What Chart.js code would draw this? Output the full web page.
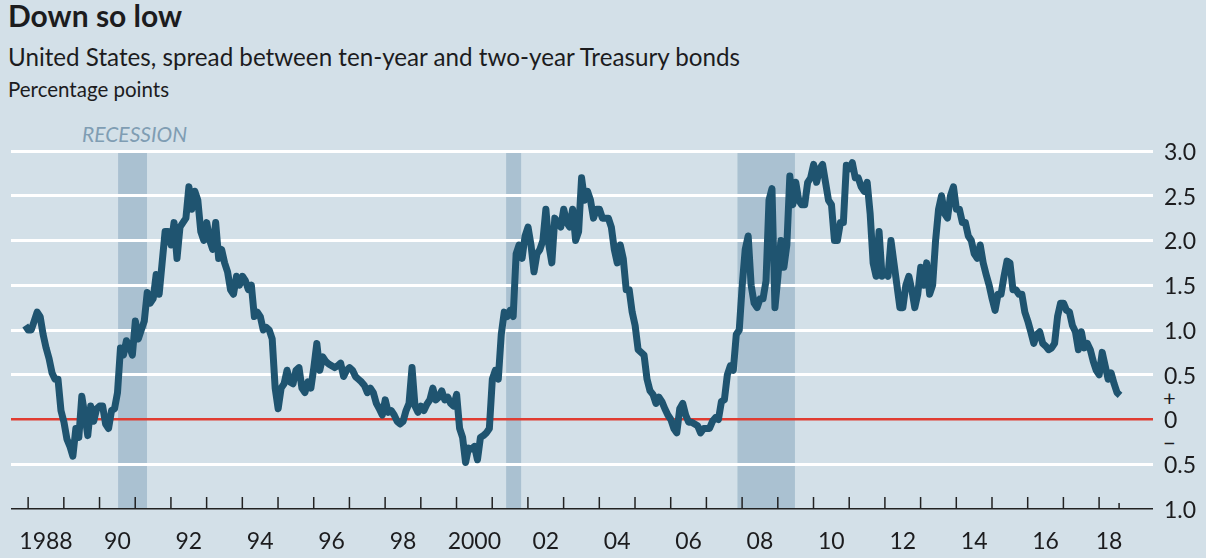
<!DOCTYPE html>
<html>
<head>
<meta charset="utf-8">
<title>Down so low</title>
<script src="https://cdn.jsdelivr.net/npm/chart.js@4"></script>
<style>
  html, body { margin: 0; padding: 0; background: #d3e0e8; }
  body { width: 1206px; height: 558px; position: relative; overflow: hidden; font-family: Lato, sans-serif; color: #1c1c1e; }
  canvas { position: absolute; left: 0; top: 0; }
  .txt { position: absolute; white-space: nowrap; line-height: 1; }
  #title { left: 8px; top: 0px; font-size: 30px; font-weight: 700; }
  #subtitle { left: 8px; top: 45px; font-size: 24.2px; }
  #units { left: 8px; top: 79px; font-size: 20.5px; }
  #recession { left: 82px; top: 123px; font-size: 21px; font-style: italic; color: #7f9db3; }
  #plus { left: 1163px; top: 387px; font-size: 22px; }
  #minus { left: 1163px; top: 432px; font-size: 22px; }
</style>
</head>
<body>
<div class="txt" id="title">Down so low</div>
<div class="txt" id="subtitle">United States, spread between ten-year and two-year Treasury bonds</div>
<div class="txt" id="units">Percentage points</div>
<div class="txt" id="recession">RECESSION</div>
<div class="txt" id="plus">+</div>
<div class="txt" id="minus">−</div>
<canvas id="chart" width="1206" height="558"></canvas>
<script>
// month by month from Dec 1987
const firstMonth = 1987.92;
const spread = [
  1.05, 1.0, 1.0, 1.1, 1.2, 1.15, 0.95, 0.8, 0.68, 0.52, 0.45, 0.45,
  0.1, -0.03, -0.22, -0.3, -0.41, -0.1, -0.2, 0.26, 0.05, -0.18, 0.15, -0.02,
  0.12, 0.15, 0.15, -0.05, -0.1, 0.1, 0.12, 0.3, 0.8, 0.72, 0.88, 0.82,
  0.72, 1.1, 0.9, 1.0, 1.1, 1.42, 1.3, 1.35, 1.62, 1.4, 1.75, 2.1,
  2.1, 1.95, 2.2, 1.8, 2.15, 2.2, 2.25, 2.6, 2.35, 2.55, 2.45, 2.1,
  2.0, 2.2, 2.0, 1.9, 2.2, 1.8, 1.9, 1.75, 1.65, 1.45, 1.4, 1.6,
  1.5, 1.6, 1.55, 1.45, 1.5, 1.15, 1.2, 1.15, 1.0, 1.03, 1.0, 0.9,
  0.35, 0.12, 0.35, 0.4, 0.55, 0.42, 0.4, 0.55, 0.58, 0.35, 0.3, 0.42,
  0.35, 0.58, 0.85, 0.55, 0.7, 0.65, 0.62, 0.6, 0.58, 0.6, 0.63, 0.48,
  0.55, 0.58, 0.55, 0.48, 0.45, 0.42, 0.38, 0.3, 0.35, 0.3, 0.18, 0.12,
  0.05, 0.22, 0.08, 0.1, 0.05, -0.02, -0.05, -0.02, 0.1, 0.18, 0.58, 0.15,
  0.08, 0.15, 0.1, 0.17, 0.22, 0.35, 0.22, 0.25, 0.32, 0.22, 0.25, 0.18,
  0.15, 0.28, -0.1, -0.2, -0.48, -0.32, -0.33, -0.3, -0.45, -0.2, -0.18, -0.15,
  -0.1, 0.45, 0.55, 0.45, 0.95, 1.2, 1.15, 1.22, 1.15, 1.85, 1.95, 1.8,
  2.05, 2.15, 1.95, 1.65, 1.85, 1.9, 2.0, 2.35, 1.95, 1.75, 2.25, 2.2,
  2.15, 2.35, 2.2, 2.15, 2.35, 2.0, 2.1, 2.7, 2.45, 2.55, 2.45, 2.25,
  2.35, 2.35, 2.25, 2.25, 2.25, 2.15, 1.9, 1.75, 1.95, 1.8, 1.45, 1.45,
  1.2, 1.05, 0.78, 0.75, 0.72, 0.45, 0.32, 0.28, 0.18, 0.25, 0.2, 0.12,
  0.05, 0, -0.1, -0.15, 0.12, 0.18, 0.05, -0.03, -0.03, -0.05, -0.07, -0.15,
  -0.1, -0.1, -0.1, -0.02, 0.02, 0, 0.2, 0.22, 0.5, 0.6, 0.55, 0.95,
  1.0, 1.5, 1.9, 2.05, 1.5, 1.3, 1.25, 1.35, 1.35, 1.55, 2.45, 2.58,
  1.25, 1.6, 2.0, 1.7, 1.95, 2.72, 2.4, 2.65, 2.45, 2.4, 2.4, 2.65,
  2.7, 2.85, 2.65, 2.8, 2.85, 2.65, 2.45, 2.4, 2.0, 2.0, 2.2, 2.2,
  2.84, 2.8, 2.87, 2.7, 2.7, 2.6, 2.55, 2.65, 2.3, 1.75, 1.6, 2.1,
  1.6, 1.65, 1.6, 2.0, 1.75, 1.5, 1.25, 1.25, 1.5, 1.6, 1.45, 1.25,
  1.4, 1.7, 1.5, 1.75, 1.4, 1.5, 2.0, 2.35, 2.5, 2.3, 2.25, 2.5,
  2.6, 2.35, 2.35, 2.2, 2.2, 2.05, 2.0, 1.85, 1.8, 1.95, 1.75, 1.62,
  1.5, 1.35, 1.22, 1.4, 1.4, 1.6, 1.77, 1.75, 1.45, 1.45, 1.4, 1.4,
  1.2, 1.1, 0.98, 0.85, 0.95, 0.98, 0.85, 0.82, 0.78, 0.8, 0.85, 1.15,
  1.3, 1.3, 1.22, 1.2, 1.05, 0.98, 0.78, 0.98, 0.8, 0.85, 0.78, 0.65,
  0.55, 0.5, 0.75, 0.6, 0.45, 0.52, 0.4, 0.3, 0.27
];

const yearTicks = [1988, 1989, 1990, 1991, 1992, 1993, 1994, 1995, 1996, 1997, 1998, 1999, 2000, 2001, 2002, 2003, 2004, 2005, 2006, 2007, 2008, 2009, 2010, 2011, 2012, 2013, 2014, 2015, 2016, 2017, 2018];
const lastTick = 2018.56;
const labelYears = [1988.5, 1990.5, 1992.5, 1994.5, 1996.5, 1998.5, 2000.5, 2002.5, 2004.5, 2006.5, 2008.5, 2010.5, 2012.5, 2014.5, 2016.5, 2018.28];
const labelTexts = ["1988", "90", "92", "94", "96", "98", "2000", "02", "04", "06", "08", "10", "12", "14", "16", "18"];
const recessionStart = [1990.52, 2001.39, 2007.87];
const recessionEnd = [1991.33, 2001.81, 2009.48];

const axisFont = { family: "Lato", size: 23 };

const points = spread.map((v, i) => ({ x: firstMonth + i / 12, y: v }));

// recession bands go under the grid, year ticks sit above the axis line
const marks = {
  id: "marks",
  beforeDraw(chart) {
    const { ctx, chartArea, scales } = chart;
    ctx.save();
    ctx.fillStyle = "#aac1d1";
    recessionStart.forEach((s, i) => {
      const x1 = scales.x.getPixelForValue(s);
      const x2 = scales.x.getPixelForValue(recessionEnd[i]);
      ctx.fillRect(x1, chartArea.top + 2, x2 - x1, chartArea.bottom - chartArea.top - 2);
    });
    ctx.restore();
  },
  afterDatasetsDraw(chart) {
    const { ctx, chartArea, scales } = chart;
    ctx.save();
    ctx.strokeStyle = "#222";
    ctx.lineWidth = 1.5;
    ctx.beginPath();
    yearTicks.forEach((y) => {
      const x = scales.x.getPixelForValue(y);
      ctx.moveTo(x, chartArea.bottom);
      ctx.lineTo(x, chartArea.bottom - 12);
    });
    const xl = scales.x.getPixelForValue(lastTick);
    ctx.moveTo(xl, chartArea.bottom);
    ctx.lineTo(xl, chartArea.bottom - 6);
    ctx.stroke();
    ctx.restore();
  }
};

new Chart(document.getElementById("chart").getContext("2d"), {
  type: "line",
  data: {
    datasets: [{
      data: points,
      borderColor: "#1f5470",
      borderWidth: 7,
      borderJoinStyle: "round",
      pointRadius: 0,
      tension: 0
    }]
  },
  options: {
    responsive: false,
    animation: false,
    events: [],
    layout: { padding: { left: 11, top: 151, right: 0, bottom: 0 } },
    plugins: { legend: { display: false }, tooltip: { enabled: false } },
    scales: {
      x: {
        type: "linear",
        min: 1987.52,
        max: 2019.51,
        border: { display: false },
        grid: { display: false },
        afterBuildTicks(scale) {
          scale.ticks = labelYears.map((v) => ({ value: v }));
        },
        afterFit(scale) { scale.height = 49; },
        ticks: {
          autoSkip: false,
          maxRotation: 0,
          padding: 11,
          color: "#1c1c1e",
          font: axisFont,
          callback: (v) => labelTexts[labelYears.indexOf(v)]
        }
      },
      y: {
        position: "right",
        min: -1,
        max: 3,
        border: { display: false },
        afterFit(scale) { scale.width = 53; },
        grid: {
          drawTicks: false,
          color: (c) => c.tick.value === 0 ? "#e03c31" : c.tick.value === -1 ? "#222" : "#ffffff",
          lineWidth: (c) => c.tick.value === -1 ? 1.5 : c.tick.value === 0 ? 2.5 : 3
        },
        ticks: {
          stepSize: 0.5,
          padding: 11,
          labelOffset: 1.5,
          color: "#1c1c1e",
          font: axisFont,
          crossAlign: "near",
          callback: (v) => v === 0 ? "0" : Math.abs(v).toFixed(1)
        }
      }
    }
  },
  plugins: [marks]
});
</script>
</body>
</html>
